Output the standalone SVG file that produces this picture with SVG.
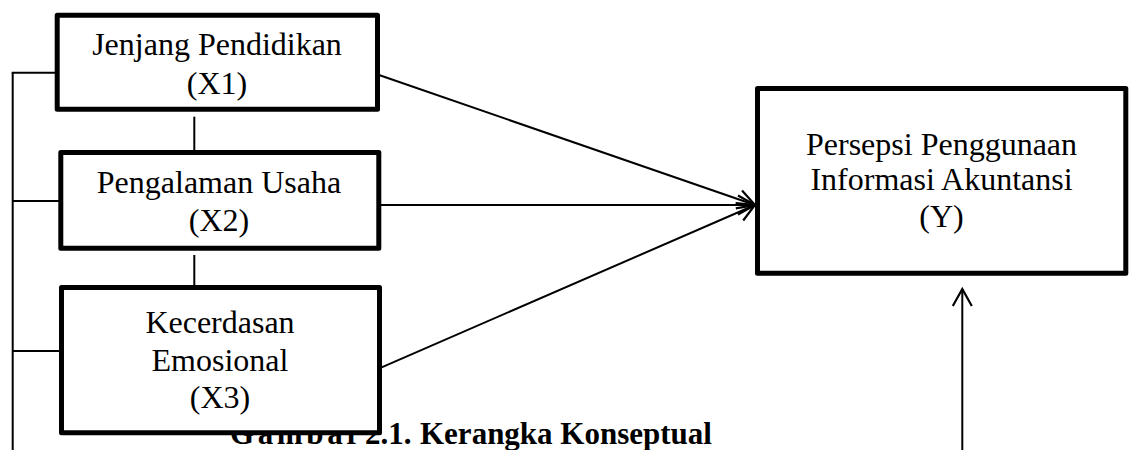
<svg xmlns="http://www.w3.org/2000/svg" width="1134" height="450" viewBox="0 0 1134 450">
  <style>
    .box { fill: #ffffff; stroke: #000000; stroke-width: 5; stroke-linejoin: round; }
    .lbl { font-family: "Liberation Serif", "Times New Roman", serif; font-size: 32px; fill: #000000; text-anchor: middle; }
    .cap { font-family: "Liberation Serif", "Times New Roman", serif; font-size: 31px; font-weight: bold; fill: #000000; }
    .wire { stroke: #000000; stroke-width: 2; fill: none; }
  </style>
  <defs>
    <marker id="open-arrow" markerUnits="userSpaceOnUse" markerWidth="24" markerHeight="24" viewBox="-20 -12 24 24" refX="0" refY="0" orient="auto" overflow="visible">
      <path d="M -17 -9.5 L 0 0 L -17 9.5" fill="none" stroke="#000000" stroke-width="2.2" stroke-linejoin="miter"/>
    </marker>
  </defs>
  <rect width="1134" height="450" fill="#ffffff"/>

  <!-- figure caption (partly covered by the X3 box) -->
  <text class="cap" y="444"><tspan x="230" textLength="130" lengthAdjust="spacing">Gambar</tspan><tspan x="365">2.1.</tspan><tspan x="420">Kerangka Konseptual</tspan></text>

  <!-- connectors -->
  <g id="connectors">
    <!-- left bracket joining the independent variables -->
    <line class="wire" x1="12.7" y1="72.7" x2="12.7" y2="450"/>
    <line class="wire" x1="11.7" y1="72.7" x2="56" y2="72.7"/>
    <line class="wire" x1="12.7" y1="201" x2="59" y2="201"/>
    <line class="wire" x1="12.7" y1="351" x2="60" y2="351"/>
    <!-- links between stacked boxes -->
    <line class="wire" x1="194.3" y1="116.7" x2="194.3" y2="151"/>
    <line class="wire" x1="194.3" y1="255" x2="194.3" y2="286"/>
    <!-- arrows into Y -->
    <line class="wire" x1="379" y1="75" x2="755" y2="205" marker-end="url(#open-arrow)"/>
    <line class="wire" x1="381" y1="205" x2="755" y2="205" marker-end="url(#open-arrow)"/>
    <line class="wire" x1="377" y1="369.3" x2="755" y2="205" marker-end="url(#open-arrow)"/>
    <line class="wire" x1="962.3" y1="450" x2="962.3" y2="289" marker-end="url(#open-arrow)"/>
  </g>

  <g id="x1">
    <rect class="box" x="57.2" y="15.2" width="320.3" height="94"/>
    <text class="lbl" x="217" y="55">Jenjang Pendidikan</text>
    <text class="lbl" x="217" y="94">(X1)</text>
  </g>

  <g id="x2">
    <rect class="box" x="60.8" y="152.5" width="318" height="95.8"/>
    <text class="lbl" x="219" y="193.3">Pengalaman Usaha</text>
    <text class="lbl" x="219" y="230.7">(X2)</text>
  </g>

  <g id="x3">
    <rect class="box" x="61.5" y="287.5" width="318" height="145.3"/>
    <text class="lbl" x="220" y="333.3">Kecerdasan</text>
    <text class="lbl" x="220" y="370.7">Emosional</text>
    <text class="lbl" x="220" y="408.3">(X3)</text>
  </g>

  <g id="y">
    <rect class="box" x="757.5" y="88.5" width="368.3" height="184.8"/>
    <text class="lbl" x="941.5" y="155">Persepsi Penggunaan</text>
    <text class="lbl" x="941.5" y="190">Informasi Akuntansi</text>
    <text class="lbl" x="941.5" y="226.7">(Y)</text>
  </g>
</svg>
